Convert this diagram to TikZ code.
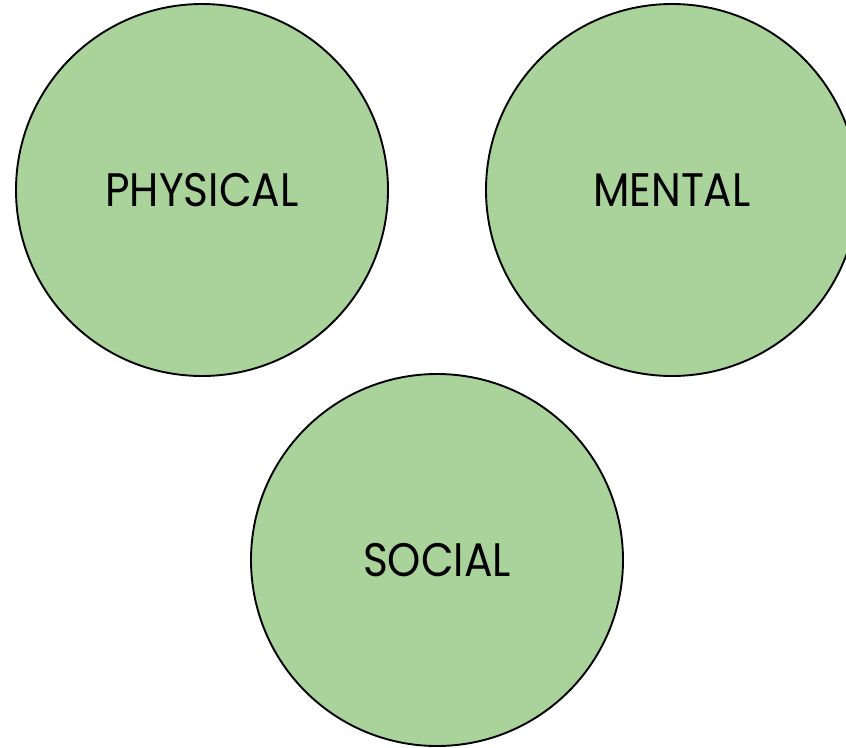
\documentclass[tikz,border=0pt]{standalone}
\usepackage{fontspec}
\setmainfont{Poppins}
\definecolor{cfill}{HTML}{A9D39A}
\newcommand{\lbltext}[1]{\scalebox{0.9}[1]{#1}}
\begin{document}
\begin{tikzpicture}[x=1pt,y=-1pt,
  bubble/.style={circle,draw=black,line width=1.9pt,fill=cfill,minimum size=372pt,inner sep=0pt,
    font=\fontsize{47}{47}\selectfont,text=black}]
\useasboundingbox (0,0) rectangle (846,747);
\clip (0,0) rectangle (846,747);
\node[bubble] (physical) at (202,190) {\lbltext{PHYSICAL}};
\node[bubble] (mental) at (672,190) {\lbltext{MENTAL}};
\node[bubble] (social) at (437,560) {\lbltext{SOCIAL}};
\end{tikzpicture}
\end{document}
